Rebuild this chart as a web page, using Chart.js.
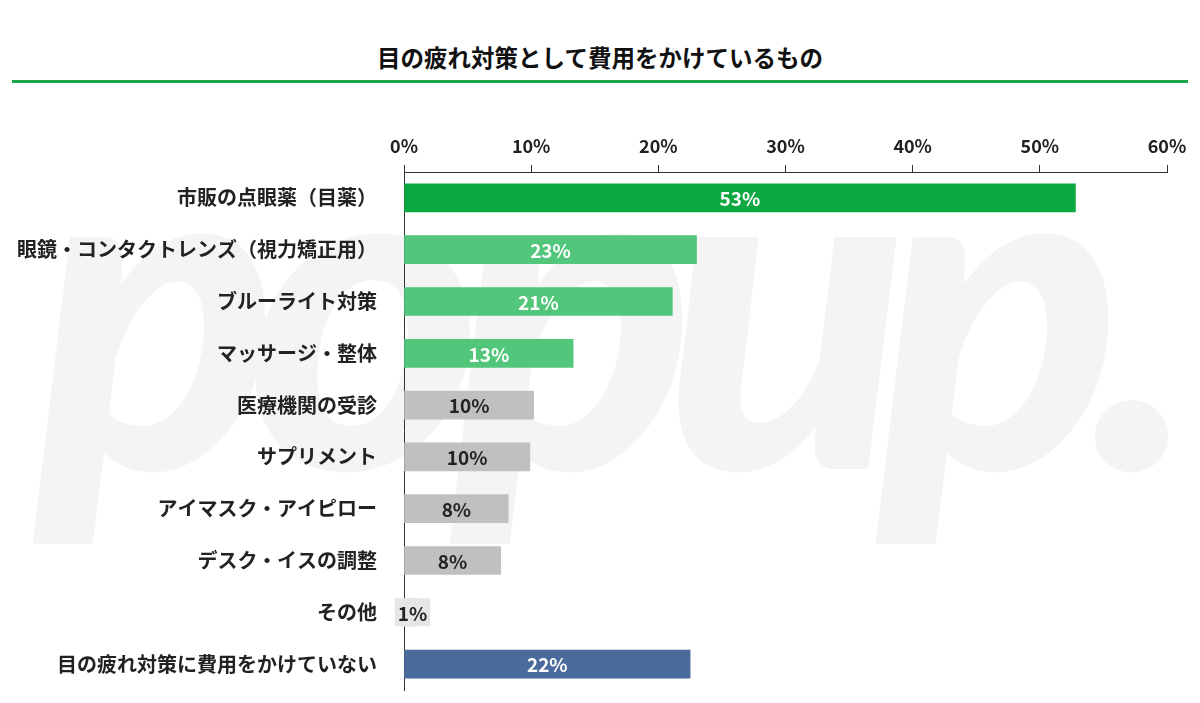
<!DOCTYPE html>
<html>
<head>
<meta charset="utf-8">
<script src="https://cdn.jsdelivr.net/npm/chart.js@4"></script>
<style>
    body { margin: 0; background: #fff; }
    #wrap { position: relative; width: 1200px; height: 703px; overflow: hidden; }
    #mark {
        position: absolute; left: 0; top: 70px; width: 1200px;
        font-family: "Lato"; font-weight: 900; font-style: italic;
        font-size: 450px; line-height: 450px; color: #f4f4f4;
        letter-spacing: -32px; text-align: center; white-space: nowrap;
    }
    #title {
        position: absolute; left: 0; top: 42px; width: 1200px; text-align: center;
        font-family: "Noto Sans CJK JP"; font-weight: 700; font-size: 23.5px; line-height: 30px; color: #111;
    }
    #rule { position: absolute; left: 12px; top: 80px; width: 1176px; height: 3px; background: #1aa84a; }
    #chart { position: absolute; left: 0; top: 0; }
</style>
</head>
<body>
<div id="wrap">
    <div id="mark">popup.</div>
    <div id="title">目の疲れ対策として費用をかけているもの</div>
    <div id="rule"></div>
    <canvas id="chart" width="1200" height="703"></canvas>
</div>
<script>
const categories = [
    "市販の点眼薬（目薬）",
    "眼鏡・コンタクトレンズ（視力矯正用）",
    "ブルーライト対策",
    "マッサージ・整体",
    "医療機関の受診",
    "サプリメント",
    "アイマスク・アイピロー",
    "デスク・イスの調整",
    "その他",
    "目の疲れ対策に費用をかけていない"
];
const values = [52.8, 23.0, 21.1, 13.3, 10.2, 9.9, 8.2, 7.6, 1.0, 22.5];
const valueLabels = ["53%", "23%", "21%", "13%", "10%", "10%", "8%", "8%", "1%", "22%"];
const barColors = ["#0ea840", "#52c67a", "#52c67a", "#52c67a", "#c0c0c0", "#c0c0c0", "#c0c0c0", "#c0c0c0", "#e6e6e6", "#4a6b9b"];
const labelColors = ["#fff", "#fff", "#fff", "#fff", "#222", "#222", "#222", "#222", "#222", "#fff"];
const xTicks = [0, 10, 20, 30, 40, 50, 60];

const barLabels = {
    id: "barLabels",
    afterDatasetsDraw(chart) {
        const ctx = chart.ctx;
        const meta = chart.getDatasetMeta(0);
        ctx.save();
        ctx.font = "600 19px 'Noto Sans CJK JP'";
        ctx.textAlign = "center";
        ctx.textBaseline = "middle";
        meta.data.forEach((bar, i) => {
            let x = (bar.x + bar.base) / 2;
            const text = valueLabels[i];
            const w = ctx.measureText(text).width;
            if (bar.x - bar.base < w + 4) {
                x = bar.base + 8;
                ctx.fillStyle = "#e6e6e6";
                ctx.fillRect(x - w / 2 - 3, bar.y - 14, w + 6, 28);
            }
            ctx.fillStyle = labelColors[i];
            ctx.fillText(text, x, bar.y + 1);
        });
        ctx.restore();
    }
};

new Chart(document.getElementById("chart"), {
    type: "bar",
    data: {
        labels: categories,
        datasets: [{
            data: values,
            backgroundColor: barColors,
            barThickness: 28
        }]
    },
    plugins: [barLabels],
    options: {
        indexAxis: "y",
        responsive: false,
        animation: false,
        devicePixelRatio: 1,
        layout: { padding: { top: 120, right: 33, bottom: 13, left: 0 } },
        plugins: {
            legend: { display: false },
            tooltip: { enabled: false }
        },
        scales: {
            x: {
                position: "top",
                min: 0,
                max: 60,
                afterBuildTicks: scale => { scale.ticks = xTicks.map(v => ({ value: v })); },
                afterFit: scale => { scale.height = 52; },
                grid: { drawOnChartArea: false, tickLength: 7, color: "#333" },
                border: { color: "#333", width: 1 },
                ticks: {
                    padding: 8,
                    color: "#222",
                    font: { family: "Noto Sans CJK JP", size: 18, weight: "600" },
                    callback: v => v + "%"
                }
            },
            y: {
                afterFit: scale => {
                    scale.width = 404;
                    scale.paddingTop = 0;
                    scale.paddingBottom = 0;
                },
                grid: { display: false },
                border: { color: "#333", width: 1 },
                ticks: {
                    padding: 19,
                    color: "#222",
                    font: { family: "Noto Sans CJK JP", size: 20, weight: "700" }
                }
            }
        }
    }
});
</script>
</body>
</html>
